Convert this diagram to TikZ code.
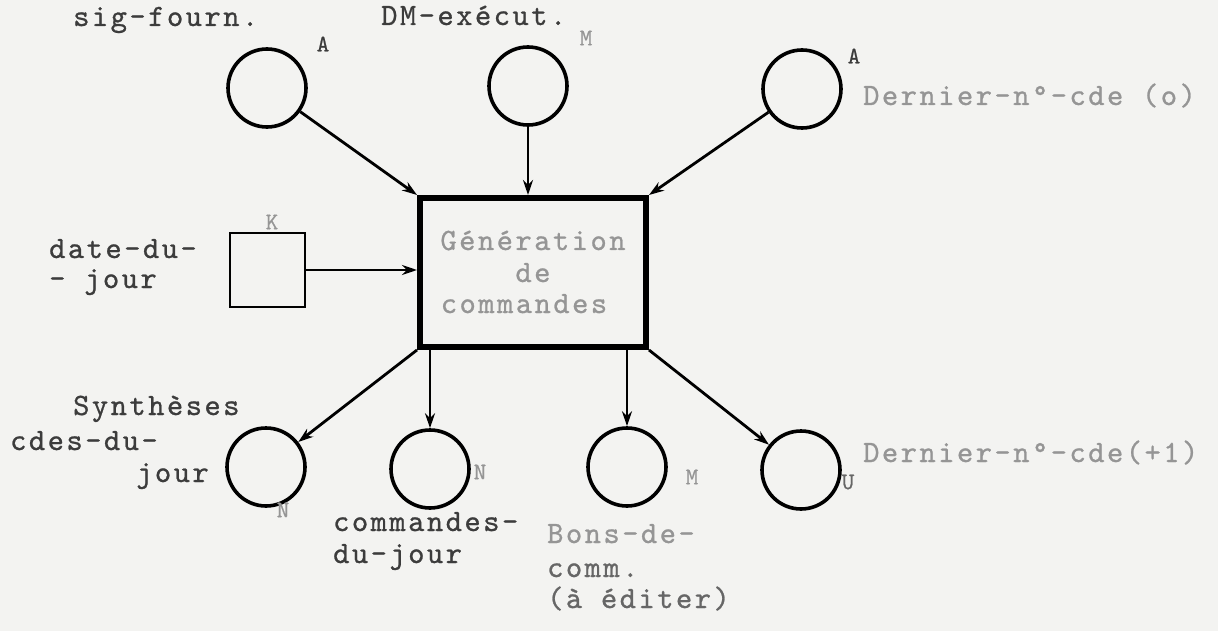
\documentclass[tikz,border=0pt]{standalone}
\usepackage{fontspec}
\newfontfamily\tw{lmmono10-regular}[Extension=.otf,LetterSpace=8,FakeBold=0.8]
\newfontfamily\tg{lmmono10-regular}[Extension=.otf,FakeBold=0.6]
\usetikzlibrary{arrows.meta}
\definecolor{paper}{HTML}{F3F3F1}
\definecolor{ink}{HTML}{3C3C3C}
\definecolor{mid}{HTML}{666666}
\definecolor{faint}{HTML}{959595}
\tikzset{
  store/.style={circle,draw=black,line width=3.6pt,minimum size=78pt,inner sep=0pt},
  procbox/.style={rectangle,draw=black,line width=6pt,minimum width=226pt,minimum height=149pt,inner sep=0pt},
  extbox/.style={rectangle,draw=black,line width=2.8pt,minimum width=75pt,minimum height=74pt,inner sep=0pt},
  lab/.style={font=\tw\fontsize{31}{31}\selectfont,text=ink,inner sep=0pt,anchor=base west},
  flab/.style={lab,text=faint},
  clab/.style={lab,anchor=base,text=faint},
  tag/.style={font=\tg\fontsize{24}{24}\selectfont,text=ink,inner sep=0pt},
  ftag/.style={tag,text=faint},
  flow/.style={draw=black,line width=2.8pt,-{Stealth[length=15pt,width=10pt]}}
}
\begin{document}
\begin{tikzpicture}[x=1pt,y=-1pt]
\fill[paper] (0,0) rectangle (1218,631);
\useasboundingbox (0,0) rectangle (1218,631);

% top stores
\node[store] (c1) at (267,88) {};
\node[store] (c2) at (528,86) {};
\node[store] (c3) at (802,89) {};
\node[lab] (l1) at (73,26) {sig-fourn.};
\node[tag] (t1) at (323,44) {A};
\node[lab] (l2) at (381,25) {DM-exécut.};
\node[ftag] (t2) at (586,38) {M};
\node[tag] (t3) at (854,56) {A};
\node[flab] (l3) at (863,105) {Dernier-n°-cde (o)};

% process
\node[procbox] (box) at (533,272.5) {};
\node[clab] (g1) at (533,250) {Génération};
\node[clab] (g2) at (533,282) {de};
\node[clab] (g3) at (524,313) {commandes};

% external entity
\node[extbox] (k) at (267.5,270) {};
\node[ftag] (tk) at (272,222) {K};
\node[lab] (lk1) at (49,258) {date-du-};
\node[lab] (lk2) at (49,288) {- jour};

% bottom stores
\node[store] (o1) at (266,467) {};
\node[store] (o2) at (430,469) {};
\node[store] (o3) at (627,467) {};
\node[store] (o4) at (801,470) {};
\node[lab] (s1) at (73,415) {Synthèses};
\node[lab] (s2) at (10,450) {cdes-du-};
\node[lab] (s3) at (136,482) {jour};
\node[ftag] (to1) at (283,510) {N};
\node[ftag] (to2) at (480,472) {N};
\node[lab] (cm1) at (333,531) {commandes-};
\node[lab] (cm2) at (333,563) {du-jour};
\node[ftag] (to3) at (692,477) {M};
\node[flab] (b1) at (547,543) {Bons-de-};
\node[lab,text=mid] (b2) at (547,577) {comm.};
\node[lab,text=mid] (b3) at (547,608) {(à éditer)};
\node[tag,text=mid] (to4) at (848,482) {U};
\node[flab] (lo4) at (863,462) {Dernier-n°-cde(+1)};

% flows in
\draw[flow] (c1) -- (box.north west);
\draw[flow] (c2) -- (c2 |- box.north);
\draw[flow] (c3) -- (box.north east);
\draw[flow] (k) -- (k -| box.west);
% flows out
\draw[flow] (box.south west) -- (o1);
\draw[flow] (box.south west -| o2) -- (o2);
\draw[flow] (box.south east -| o3) -- (o3);
\draw[flow] (box.south east) -- (o4);
\end{tikzpicture}
\end{document}
